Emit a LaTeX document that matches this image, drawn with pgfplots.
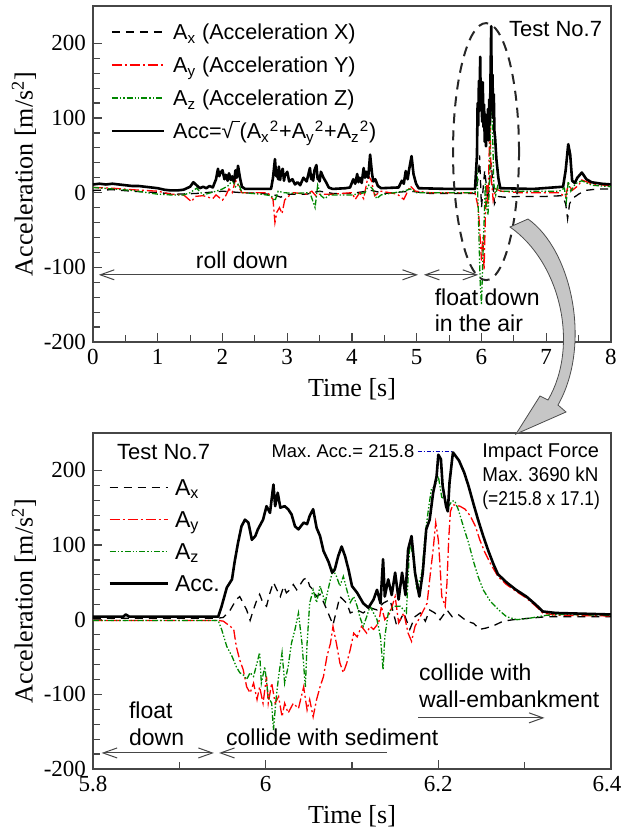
\documentclass[border=0pt]{standalone}
\usepackage{fontspec}
\setmainfont{Liberation Serif}
\newfontfamily\timesfont{Liberation Serif}
\newfontfamily\arial{Liberation Sans}
\usepackage{pgfplots}
\pgfplotsset{compat=1.18}
\usetikzlibrary{arrows.meta}
\frenchspacing

\definecolor{accred}{RGB}{255,0,0}
\definecolor{accgreen}{RGB}{0,135,0}
\definecolor{maxblue}{RGB}{0,0,190}
\definecolor{framegray}{RGB}{70,70,70}

\pgfplotsset{
  accaxis/.style={
    scale only axis, width=259pt, height=168pt,
    ymin=-200, ymax=250,
    ytick={-200,-100,0,100,200},
    minor y tick num=4,
    tick align=inside, xtick pos=left, ytick pos=left,
    axis line style={framegray, line width=0.8pt},
    tick style={framegray, line width=0.6pt},
    major tick length=4.5pt, minor tick length=3.5pt,
    tick label style={font=\timesfont\fontsize{11.5}{13}\selectfont},
    /pgf/number format/assume math mode=true,
    label style={font=\timesfont\fontsize{13}{15}\selectfont},
    xlabel={Time [s]},
    ylabel={Acceleration [m/s\textsuperscript{2}]},
    ylabel shift=-3pt,
    legend cell align=left,
  },
  ax/.style={black, line width=0.65pt, dash pattern=on 4pt off 3pt},
  ay/.style={accred, line width=0.65pt, dash pattern=on 5pt off 1.5pt on 1pt off 1.5pt},
  az/.style={accgreen, line width=0.65pt, dash pattern=on 3pt off 1pt on 0.7pt off 1pt on 0.7pt off 1pt},
  acc/.style={black, line width=1.3pt, line join=round},
}
\tikzset{
  arr/.style={framegray, line width=0.5pt},
  barb/.tip={Straight Barb[length=7pt,width=5pt]},
  lab/.style={font=\arial\fontsize{11.5}{13}\selectfont},
}

\begin{document}
\begin{tikzpicture}
\path[use as bounding box] (0,0) rectangle (311pt,-413.5pt);

% ---------------- top: whole run ----------------
\begin{axis}[accaxis, at={(46.5pt,-171pt)}, anchor=south west,
  xmin=0, xmax=8, xtick={0,1,...,8}, minor x tick num=1,
  legend style={at={(axis description cs:0.033,0.973)}, anchor=north west,
    draw=none, fill=none, inner sep=0pt, row sep=0pt,
    font=\arial\fontsize{10.8}{13}\selectfont,
    nodes={inner sep=0pt, text height=12.25pt, text depth=4.25pt}},
  legend image code/.code={\draw[#1] (0pt,0pt) -- (26pt,0pt); \path (30pt,0pt);},
]
\addplot[ax] coordinates {
(0,3) (0.3,4) (0.6,2) (1.0,0) (1.3,-2) (1.6,-1) (2.0,2) (2.3,0) (2.6,-1) (2.8,-3)
(2.9,-6) (3.0,-2) (3.3,-2) (3.5,2) (3.7,-1) (4.0,-1) (4.3,3) (4.5,-1) (4.9,2) (5.2,-1)
(5.9,-1) (5.95,20) (5.97,50) (6.0,-20) (6.05,30) (6.1,-10) (6.15,40) (6.2,-15) (6.25,-5)
(6.35,-6) (6.6,-5) (7.0,-5) (7.25,-4) (7.30,-15) (7.33,-35) (7.36,-15) (7.4,-8) (7.5,-2)
(7.6,3) (7.8,5) (8.0,5)};
\addlegendentry{A\textsubscript{x} (Acceleration X)}
\addplot[ay] coordinates {
(0,7) (0.3,6) (0.6,4) (1.0,2) (1.2,-2) (1.4,-3) (1.52,-12) (1.58,-5) (1.7,-4) (1.85,-8)
(1.9,-3) (2.0,-10) (2.05,-4) (2.1,5) (2.15,0) (2.2,17) (2.25,8) (2.3,0) (2.5,0) (2.7,0)
(2.78,-9) (2.81,-40) (2.84,-26) (2.88,-20) (2.92,-28) (2.96,-10) (3.0,-6) (3.1,0) (3.3,-2)
(3.38,2) (3.45,-5) (3.5,-2) (3.7,-2) (4.0,0) (4.05,-9) (4.12,0) (4.18,-8) (4.25,23) (4.30,16)
(4.35,-4) (4.45,2) (4.7,-2) (4.8,-9) (4.9,9) (4.98,2) (5.2,0) (5.9,0) (5.95,-20) (5.97,-46)
(6.0,-91) (6.02,-60) (6.04,-104) (6.06,-30) (6.08,10) (6.10,-15) (6.13,96) (6.15,21)
(6.18,-10) (6.22,5) (6.3,2) (6.6,0) (7.2,0) (7.3,-6) (7.34,12) (7.4,3) (7.5,10) (7.55,17)
(7.7,12) (8.0,9)};
\addlegendentry{A\textsubscript{y} (Acceleration Y)}
\addplot[az] coordinates {
(0,7) (0.3,5) (0.6,3) (1.0,-2) (1.2,-3) (1.4,-3) (1.5,0) (1.6,6) (1.7,-3) (1.9,2) (2.0,5)
(2.1,10) (2.15,17) (2.2,8) (2.25,12) (2.3,0) (2.6,-2) (2.75,-4) (2.81,-11) (2.86,2) (2.95,0)
(3.1,-1) (3.35,0) (3.43,-20) (3.47,10) (3.52,-4) (3.58,-8) (3.65,-3) (4.0,-3) (4.2,0)
(4.26,10) (4.32,5) (4.38,-8) (4.45,-3) (4.8,2) (4.9,5) (5.0,0) (5.2,0) (5.9,0) (5.93,33)
(5.95,-24) (5.98,-121) (6.00,-150) (6.02,-90) (6.04,-40) (6.06,12) (6.08,-20) (6.10,-30)
(6.12,5) (6.15,140) (6.17,87) (6.19,12) (6.22,-3) (6.25,9) (6.3,2) (7.2,2) (7.28,6)
(7.31,-12) (7.34,15) (7.38,2) (7.45,12) (7.55,16) (7.7,10) (8.0,8)};
\addlegendentry{A\textsubscript{z} (Acceleration Z)}
\addplot[acc] coordinates {
(0.00,11) (0.10,12) (0.20,11) (0.30,12) (0.40,11) (0.50,10) (0.60,9) (0.70,9) (0.80,8)
(0.90,7) (1.00,6) (1.10,4) (1.20,3) (1.30,3) (1.40,4) (1.50,8) (1.55,14) (1.60,10)
(1.65,6) (1.70,8) (1.75,6) (1.80,9) (1.85,7) (1.90,18) (1.93,32) (1.95,22) (1.97,27)
(2.00,30) (2.03,18) (2.05,24) (2.08,16) (2.10,26) (2.13,17) (2.15,22) (2.18,15) (2.20,30)
(2.22,20) (2.24,36) (2.27,20) (2.30,8) (2.35,5) (2.75,5)
(2.78,20) (2.81,45) (2.83,22) (2.84,30) (2.86,18) (2.87,35) (2.89,17) (2.90,25) (2.93,32)
(2.95,16) (2.96,22) (3.00,28) (3.03,15) (3.08,18) (3.12,11) (3.16,14) (3.20,10) (3.25,20)
(3.30,15) (3.35,33) (3.37,18) (3.38,24) (3.40,16) (3.42,30) (3.45,37) (3.47,18) (3.48,22)
(3.50,15) (3.52,28) (3.56,20) (3.60,14) (3.64,7) (3.70,5) (3.90,6) (3.97,7)
(4.02,18) (4.05,12) (4.08,25) (4.10,14) (4.12,20) (4.15,13) (4.18,33) (4.20,20) (4.22,28)
(4.25,20) (4.28,51) (4.31,25) (4.33,15) (4.36,18) (4.40,9)
(4.45,6) (4.72,7) (4.77,16) (4.80,12) (4.83,29) (4.86,18) (4.88,30) (4.92,49) (4.95,25)
(4.99,12) (5.03,6) (5.50,5) (5.90,5) (5.93,50) (5.94,120) (5.95,90) (5.96,150) (5.97,125)
(5.98,182) (5.99,110) (6.00,140) (6.01,95) (6.02,148) (6.03,88) (6.04,118) (6.05,68)
(6.06,105) (6.07,62) (6.08,98) (6.09,78) (6.10,112) (6.11,70) (6.12,125) (6.13,92)
(6.14,160) (6.15,223) (6.16,118) (6.17,158) (6.18,100) (6.19,132) (6.20,82) (6.21,74)
(6.23,45) (6.26,20) (6.29,6) (6.80,5) (7.26,8) (7.30,30) (7.34,65) (7.37,51) (7.40,16) (7.44,13)
(7.48,20) (7.55,27) (7.62,18) (7.70,14) (7.85,12) (8.00,11)};
\addlegendentry{Acc=√\kern-0.02em\rule[0.78em]{0.3em}{0.05em}(A\textsubscript{x}\textsuperscript{2}+A\textsubscript{y}\textsuperscript{2}+A\textsubscript{z}\textsuperscript{2})}

\draw[black!85, line width=1pt, dash pattern=on 5pt off 3.5pt]
  (axis cs:6.07,55) ellipse [x radius=16.5pt, y radius=64.25pt];
\node[lab, anchor=west, font=\arial\fontsize{11}{13}\selectfont] at (axis cs:6.317,218.7) {Test No.7};
\node[lab] at (axis cs:2.3,-90) {roll down};
\node[lab, anchor=west] at (axis cs:5.17,-140) {float down};
\node[lab, anchor=west] at (axis cs:5.17,-175) {in the air};
\draw[arr, barb-barb] (axis cs:0.09,-110) -- (axis cs:5.02,-110);
\draw[arr, barb-barb] (axis cs:5.11,-110) -- (axis cs:5.95,-110);
\end{axis}

% ---------------- bottom: impact detail ----------------
\begin{axis}[accaxis, at={(46.5pt,-384.5pt)}, anchor=south west,
  xmin=5.8, xmax=6.4, xtick={5.8,6,6.2,6.4}, minor x tick num=1,
  xticklabels={5.8,6,6.2,{\hspace*{-4pt}6.4}},
  legend style={at={(axis description cs:0.029,0.887)}, anchor=north west,
    draw=none, fill=none, inner sep=0pt, row sep=0pt,
    font=\arial\fontsize{11.5}{13}\selectfont,
    nodes={inner sep=0pt, text height=12pt, text depth=4pt}},
  legend image code/.code={\draw[#1] (0pt,0pt) -- (29pt,0pt); \path (32pt,0pt);},
]
\addplot[ax] coordinates {
(5.80,2) (5.945,2) (5.951,3) (5.959,13) (5.966,27) (5.970,31) (5.974,22) (5.978,13)
(5.982,-1) (5.986,14) (5.990,27) (5.993,34) (5.997,22) (6.001,18) (6.005,36) (6.009,50)
(6.013,40) (6.017,31) (6.021,45) (6.024,36) (6.028,40) (6.032,47) (6.036,40) (6.040,47)
(6.044,54) (6.048,56) (6.051,45) (6.055,40) (6.059,31) (6.063,34) (6.071,13) (6.078,-7)
(6.086,31) (6.094,22) (6.098,9) (6.106,13) (6.113,9) (6.121,16) (6.129,13) (6.136,22)
(6.144,27) (6.148,9) (6.152,-9) (6.160,9) (6.167,-13) (6.173,4) (6.179,9) (6.185,-2)
(6.190,13) (6.196,9) (6.202,0) (6.210,13) (6.216,4) (6.223,7) (6.233,-2) (6.241,-5)
(6.248,-13) (6.256,-11) (6.266,-7) (6.275,-2) (6.287,0) (6.306,2) (6.326,4) (6.40,4)};
\addlegendentry{A\textsubscript{x}}
\addplot[ay] coordinates {
(5.80,-1) (5.945,-1) (5.951,-2) (5.959,-9) (5.963,-13) (5.966,-36) (5.970,-54) (5.974,-67)
(5.978,-90) (5.982,-98) (5.986,-85) (5.990,-107) (5.993,-90) (5.997,-112) (6.001,-76)
(6.003,-112) (6.007,-85) (6.011,-112) (6.015,-103) (6.019,-130) (6.022,-112) (6.026,-125)
(6.032,-112) (6.038,-119) (6.044,-90) (6.048,-121) (6.051,-107) (6.055,-130) (6.059,-107)
(6.063,-90) (6.067,-76) (6.071,-49) (6.075,-32) (6.078,-9) (6.082,-32) (6.086,-58)
(6.090,-71) (6.094,-58) (6.098,-40) (6.102,-18) (6.106,-23) (6.111,-9) (6.117,-18)
(6.121,-9) (6.125,-13) (6.131,-4) (6.134,18) (6.138,0) (6.144,9) (6.150,31) (6.154,-4)
(6.160,9) (6.165,-18) (6.169,-29) (6.173,-9) (6.179,4) (6.187,22) (6.190,54) (6.194,94)
(6.197,130) (6.200,107) (6.202,72) (6.204,31) (6.208,18) (6.210,49) (6.212,107) (6.214,145)
(6.217,154) (6.225,152) (6.231,148) (6.237,139) (6.243,125) (6.248,107) (6.254,90)
(6.260,76) (6.269,58) (6.279,47) (6.290,38) (6.302,29) (6.313,18) (6.321,9) (6.336,6)
(6.40,5)};
\addlegendentry{A\textsubscript{y}}
\addplot[az] coordinates {
(5.80,-1) (5.945,-1) (5.949,-13) (5.955,-36) (5.961,-49) (5.966,-63) (5.970,-71) (5.974,-74)
(5.978,-80) (5.982,-71) (5.986,-76) (5.990,-58) (5.993,-44) (5.995,-85) (5.999,-63)
(6.003,-103) (6.007,-112) (6.009,-148) (6.012,-107) (6.015,-76) (6.019,-44) (6.022,-85)
(6.026,-63) (6.030,-31) (6.034,-13) (6.038,9) (6.042,-31) (6.046,-90) (6.048,-31) (6.051,22)
(6.055,40) (6.059,23) (6.063,45) (6.069,23) (6.075,54) (6.078,67) (6.082,58) (6.086,45)
(6.090,58) (6.094,40) (6.098,23) (6.102,31) (6.106,18) (6.109,4) (6.113,-9) (6.117,4)
(6.121,18) (6.125,9) (6.129,0) (6.133,-23) (6.136,-67) (6.138,-23) (6.142,9) (6.148,18)
(6.156,18) (6.163,9) (6.167,103) (6.171,85) (6.175,40) (6.181,63) (6.185,116) (6.189,152)
(6.192,175) (6.196,179) (6.200,192) (6.204,164) (6.208,161) (6.212,152) (6.216,159)
(6.219,159) (6.223,148) (6.229,125) (6.235,103) (6.241,77) (6.246,58) (6.252,40) (6.260,25)
(6.270,13) (6.279,4) (6.291,0) (6.306,2) (6.326,6) (6.345,7) (6.40,6)};
\addlegendentry{A\textsubscript{z}}
\addplot[acc] coordinates {
(5.800,4) (5.835,4) (5.838,7) (5.842,4) (5.945,4) (5.949,18) (5.955,43) (5.961,54)
(5.964,77) (5.968,103) (5.972,125) (5.976,134) (5.980,130) (5.984,107) (5.988,112)
(5.991,121) (5.997,134) (6.001,152) (6.005,143) (6.009,181) (6.011,152) (6.014,170)
(6.017,150) (6.022,152) (6.026,148) (6.030,141) (6.034,125) (6.038,121) (6.044,130)
(6.048,128) (6.051,139) (6.055,148) (6.059,123) (6.063,112) (6.067,92) (6.073,77)
(6.077,63) (6.080,67) (6.084,85) (6.088,98) (6.092,85) (6.096,67) (6.100,45) (6.106,36)
(6.113,22) (6.119,16) (6.125,27) (6.129,40) (6.133,22) (6.136,81) (6.138,31) (6.142,54)
(6.146,33) (6.150,63) (6.154,27) (6.158,63) (6.162,33) (6.165,94) (6.169,112) (6.173,63)
(6.178,31) (6.182,63) (6.186,121) (6.190,134) (6.194,170) (6.198,192) (6.200,221)
(6.203,215) (6.205,179) (6.209,152) (6.211,145) (6.213,184) (6.216,215) (6.217,224)
(6.224,213) (6.230,197) (6.235,179) (6.241,154) (6.246,134) (6.252,112) (6.258,92)
(6.264,74) (6.269,61) (6.279,50) (6.290,40) (6.302,31) (6.313,20) (6.321,11) (6.336,9)
(6.400,7)};
\addlegendentry{Acc.}

\node[lab, anchor=west, font=\arial\fontsize{11}{13}\selectfont] at (axis cs:5.8197,224) {Test No.7};
\node[anchor=east, inner sep=1pt, font=\arial\fontsize{9.2}{11}\selectfont] at (axis cs:6.175,225.5) {Max. Acc.= 215.8};
\draw[maxblue, line width=0.6pt, dash pattern=on 2pt off 1pt on 0.5pt off 1pt]
  (axis cs:6.176,225.5) -- (axis cs:6.217,225.5);
\node[anchor=north west, align=left, inner sep=0pt, font=\arial\fontsize{10}{12}\selectfont]
  at (axis cs:6.2506,236) {Impact Force\\\scalebox{0.94}[1]{Max. 3690 kN}\\\scalebox{0.87}[1]{(=215.8 x 17.1)}};
\node[lab, anchor=west] at (axis cs:5.8336,-121) {float};
\node[lab, anchor=west] at (axis cs:5.8336,-157) {down};
\node[lab, anchor=west] at (axis cs:5.946,-158) {collide with sediment};
\node[lab, anchor=west] at (axis cs:6.1695,-71) {collide with};
\node[lab, anchor=west] at (axis cs:6.1695,-107) {wall-embankment};
\draw[arr, barb-barb] (axis cs:5.81,-178.5) -- (axis cs:5.94,-178.5);
\draw[arr, barb-] (axis cs:5.946,-178.5) -- (axis cs:6.14,-178.5);
\draw[arr, -barb] (axis cs:6.177,-131.5) -- (axis cs:6.323,-131.5);
\end{axis}

% gray pointer from the ellipse to the detail plot (pixel units)
\begin{scope}[x=0.5pt, y=-0.5pt]
\filldraw[fill=gray!45, draw=gray!60!black, line width=0.4pt]
  (510,227) .. controls (560,262) and (580,345) .. (548,400)
  -- (540,396) -- (516,434) -- (566,412) -- (558,405)
  .. controls (592,345) and (572,250) .. (528,219) -- cycle;
\end{scope}
\end{tikzpicture}
\end{document}
